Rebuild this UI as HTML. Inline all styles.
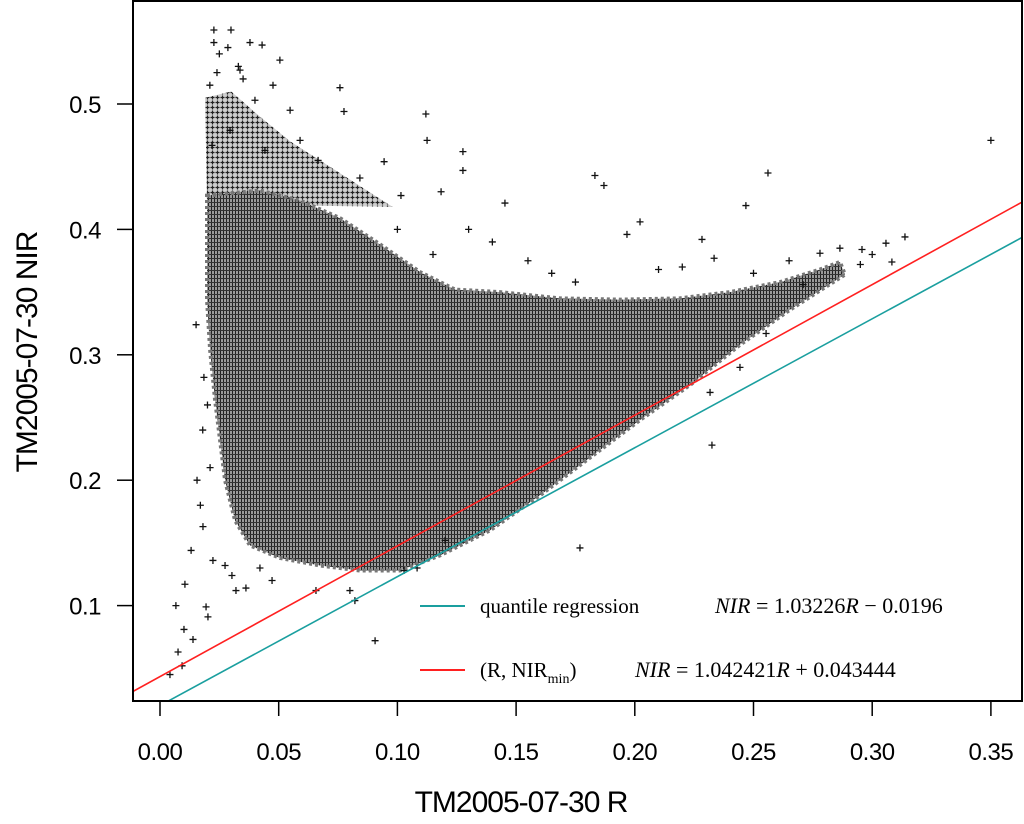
<!DOCTYPE html>
<html><head><meta charset="utf-8"><style>
html,body{margin:0;padding:0;background:#fff;}
svg{display:block;}
</style></head><body>
<svg id="chart" width="1024" height="824" xmlns="http://www.w3.org/2000/svg" font-family="Liberation Sans, sans-serif">
<defs>
<pattern id="dense" width="3" height="4" patternUnits="userSpaceOnUse">
<rect width="3" height="4" fill="#9a9a9a"/>
<rect x="1" width="1" height="4" fill="#222"/>
<rect y="2" width="3" height="1" fill="#333"/>
</pattern>
<pattern id="medium" width="5" height="5" patternUnits="userSpaceOnUse">
<rect width="5" height="5" fill="#d0d0d0"/>
<path d="M2.5 0.5V4.5M0.5 2.5H4.5" stroke="#222" stroke-width="1.2"/>
</pattern>
<clipPath id="plotclip"><rect x="133" y="1" width="889" height="700"/></clipPath>
</defs>
<g id="plot" clip-path="url(#plotclip)"></g>
<rect x="133" y="1" width="889" height="700" fill="none" stroke="#000" stroke-width="2"/>
<g id="axes"></g>
<text x="521" y="812" font-size="30" text-anchor="middle" letter-spacing="-1">TM2005-07-30 R</text>
<text transform="translate(37,352) rotate(-90)" font-size="30" text-anchor="middle" letter-spacing="-1">TM2005-07-30 NIR</text>
<g font-family="Liberation Serif, serif" font-size="21">
<line x1="420" y1="606" x2="465" y2="606" stroke="#1a9f9f" stroke-width="2"/>
<text x="480" y="613">quantile regression</text>
<text x="715" y="613" font-size="22"><tspan font-style="italic">NIR</tspan> = 1.03226<tspan font-style="italic">R</tspan> − 0.0196</text>
<line x1="420" y1="670" x2="465" y2="670" stroke="#ff2020" stroke-width="2"/>
<text x="480" y="677">(R, NIR<tspan font-size="14" dy="6">min</tspan><tspan dy="-6">)</tspan></text>
<text x="635" y="677" font-size="22"><tspan font-style="italic">NIR</tspan> = 1.042421<tspan font-style="italic">R</tspan> + 0.043444</text>
</g>
</svg>
<script>
const xTicks=[0.00,0.05,0.10,0.15,0.20,0.25,0.30,0.35];
const xTickLabels=["0.00","0.05","0.10","0.15","0.20","0.25","0.30","0.35"];
const yTicks=[0.1,0.2,0.3,0.4,0.5];
const yTickLabels=["0.1","0.2","0.3","0.4","0.5"];
const denseR=[.0198,.0421,.0590,.0758,.0927,.1095,.1243,.1432,.1685,.1938,.2190,.2401,.2612,.2780,.2864,.2885,.2654,.2443,.2233,.2022,.1811,.1601,.1390,.1179,.1011,.0842,.0674,.0505,.0379,.0316,.0274,.0253,.0232,.0211,.0198];
const denseN=[.427,.431,.423,.409,.388,.366,.352,.350,.345,.344,.345,.350,.358,.368,.374,.364,.336,.308,.276,.248,.218,.188,.160,.140,.128,.128,.132,.138,.148,.168,.200,.232,.264,.304,.344];
const mediumR=[.0190,.0300,.0420,.0550,.0716,.0880,.0980,.0198];
const mediumN=[.505,.510,.490,.470,.450,.430,.418,.420];
const outR=[.0227,.0299,.0227,.0286,.0379,.0430,.0505,.0758,.0775,.1120,.1125,.1276,.1276,.0944,.1015,.1184,.1453,.1832,.1870,.1967,.2022,.2283,.2334,.2468,.2561,.3500,.1769,.0906,.0320,.0194,.0202,.0101,.0076,.0093,.0042,.0139,.0067,.0105,.0131,.0181,.0156,.0211,.0185,.0152,.0223,.0362,.0421,.0274,.0303,.0472,.0657,.0800,.0821,.1028,.1083,.1201,.2317,.2325,.2443,.2553,.2709,.2780,.2864,.2957,.3058,.3138,.3083,.0590,.0666,.0842,.0548,.0476,.0337,.0400,.0295,.0219,.0442,.1300,.1400,.1550,.1650,.1750,.2100,.2200,.2500,.2650,.2950,.3000,.1150,.1000,.0180,.0170,.0200,.0250,.0330,.0240,.0210,.0350];
const outN=[.559,.559,.549,.545,.549,.547,.535,.513,.494,.492,.471,.462,.447,.454,.427,.430,.421,.443,.435,.396,.406,.392,.377,.419,.445,.471,.146,.072,.112,.099,.091,.081,.063,.052,.045,.073,.100,.117,.144,.163,.200,.210,.282,.324,.136,.114,.130,.132,.124,.120,.112,.112,.104,.128,.130,.152,.270,.228,.290,.317,.356,.381,.385,.384,.389,.394,.374,.471,.455,.441,.495,.515,.527,.503,.479,.467,.463,.400,.390,.375,.365,.358,.368,.370,.365,.375,.372,.380,.380,.400,.240,.180,.260,.540,.530,.525,.515,.520];
const lineNames=["quantile-regression-line","nirmin-line"];
const lineSlopes=[1.028,1.042];
const lineIntercepts=[0.0203,0.0434];
const lineColors=["#1a9f9f","#ff2020"];

const xs=v=>160+v*2374;
const ys=v=>104+(0.5-v)*1254;
const NS="http://www.w3.org/2000/svg";
const plot=document.getElementById('plot');
const axes=document.getElementById('axes');
function mk(tag,attrs,parent){const e=document.createElementNS(NS,tag);for(const k in attrs)e.setAttribute(k,attrs[k]);parent.appendChild(e);return e;}

let p=mk('polygon',{points:mediumR.map((r,i)=>xs(r)+','+ys(mediumN[i])).join(' '),fill:'url(#medium)'},plot);


let d=mk('polygon',{points:denseR.map((r,i)=>xs(r)+','+ys(denseN[i])).join(' '),fill:'url(#dense)',stroke:'#777','stroke-width':4,'stroke-dasharray':'3 3'},plot);



outR.forEach((r,i)=>{
  const x=xs(r),y=ys(outN[i]);
  const c=mk('path',{d:`M${x-3.5} ${y}H${x+3.5}M${x} ${y-3.5}V${y+3.5}`,stroke:'#111','stroke-width':1.3},plot);
  
  
});

lineSlopes.forEach((s,i)=>{
  const r0=-0.02,r1=0.37;
  const l=mk('line',{x1:xs(r0),y1:ys(s*r0+lineIntercepts[i]),x2:xs(r1),y2:ys(s*r1+lineIntercepts[i]),stroke:lineColors[i],'stroke-width':1.6},plot);
  
  
});

xTicks.forEach((t,i)=>{
  const x=xs(t);
  const tk=mk('line',{x1:x,y1:701,x2:x,y2:716,stroke:'#000','stroke-width':1.5},axes);
  
  
  const tx=mk('text',{x:x,y:760,'font-size':24,'text-anchor':'middle','letter-spacing':'-0.5'},axes);
  tx.textContent=xTickLabels[i];
  
  
});
yTicks.forEach((t,i)=>{
  const y=ys(t);
  const tk=mk('line',{x1:117,y1:y,x2:133,y2:y,stroke:'#000','stroke-width':1.5},axes);
  
  
  const tx=mk('text',{x:101,y:y+9,'font-size':24,'text-anchor':'end','letter-spacing':'-0.5'},axes);
  tx.textContent=yTickLabels[i];
  
  
});
</script>
</body></html>
